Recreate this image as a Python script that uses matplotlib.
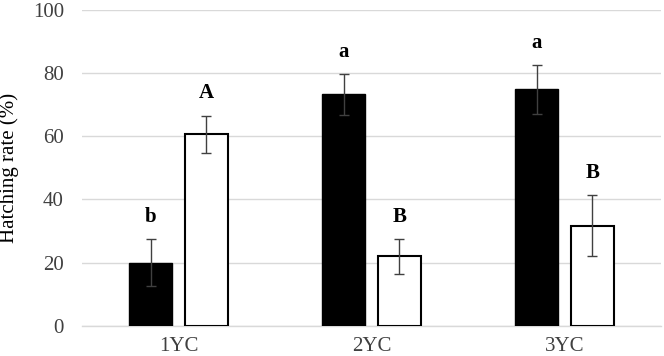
import numpy as np
import matplotlib.pyplot as plt

plt.rcParams['font.family'] = ['Liberation Serif', 'DejaVu Serif']

groups = ['1YC', '2YC', '3YC']
black_vals = [20.0, 73.2, 74.8]
black_err = [7.4, 6.5, 7.7]
white_vals = [60.6, 22.0, 31.7]
white_err = [5.9, 5.5, 9.6]
black_letters = ['b', 'a', 'a']
white_letters = ['A', 'B', 'B']

fig = plt.figure(figsize=(6.64, 3.56), dpi=100)
ax = fig.add_axes([0.1235, 0.0843, 0.872, 0.889])

x = np.arange(len(groups))
w = 0.223
off = 0.145
errkw = dict(ecolor='#404040', elinewidth=1.0, capsize=3.5, capthick=1.0)

ax.bar(x - off, black_vals, w, color='black', edgecolor='black', linewidth=1,
       yerr=black_err, error_kw=errkw, zorder=3)
ax.bar(x + off, white_vals, w, color='white', edgecolor='black', linewidth=1.5,
       yerr=white_err, error_kw=errkw, zorder=3)

for xs, vals, errs, letters in [(x - off, black_vals, black_err, black_letters),
                                 (x + off, white_vals, white_err, white_letters)]:
    for xi, v, e, t in zip(xs, vals, errs, letters):
        ax.annotate(t, (xi, v + e), xytext=(0, 16), textcoords='offset points',
                    ha='center', va='center', fontsize=15, fontweight='bold')

ax.set_xlim(-0.5, 2.5)
ax.set_ylim(0, 100)
ax.set_yticks(np.arange(0, 101, 20))
ax.set_xticks(x)
ax.set_xticklabels(groups)
ax.tick_params(axis='both', length=0, labelsize=15, colors='#404040')
ax.tick_params(axis='y', pad=13)
ax.tick_params(axis='x', pad=8)
ax.grid(axis='y', color='#d9d9d9', linewidth=1, zorder=0)
ax.set_axisbelow(True)
for s in ['top', 'right', 'left']:
    ax.spines[s].set_visible(False)
ax.spines['bottom'].set_color('#d9d9d9')
ax.spines['bottom'].set_linewidth(1)

ax.set_ylabel('Hatching rate (%)', fontsize=15, color='black')
ax.yaxis.set_label_coords(-0.108, 0.5)

fig.savefig('out.png', dpi=100)
